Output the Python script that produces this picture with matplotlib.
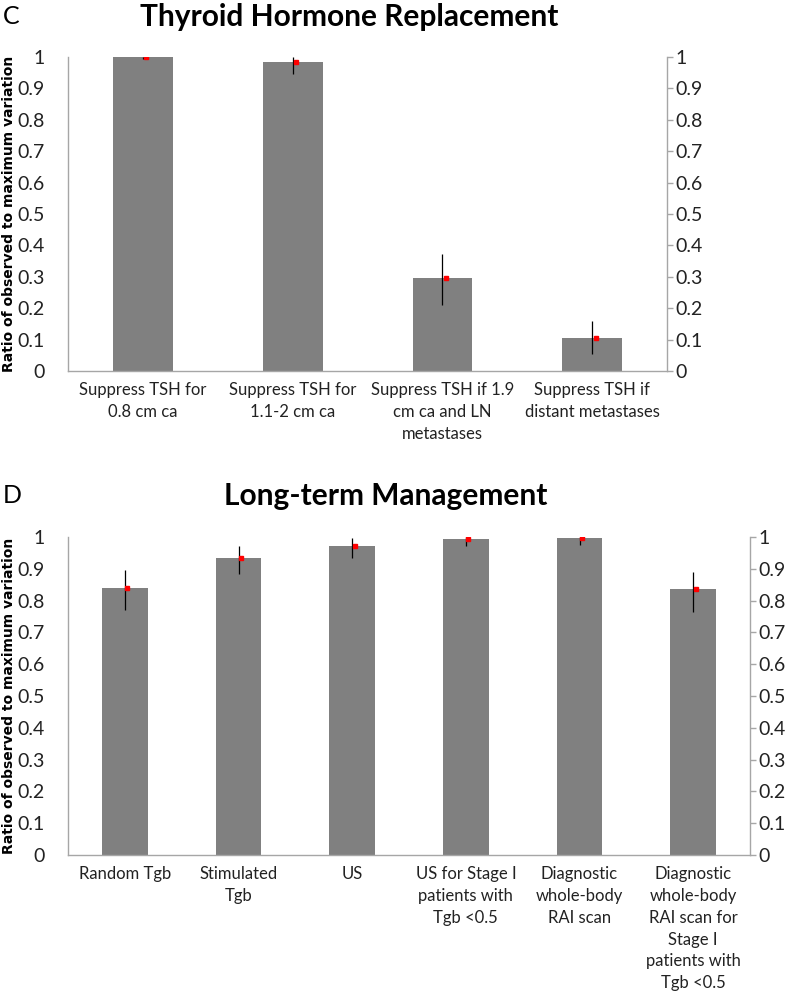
import numpy as np
import matplotlib
matplotlib.use("Agg")
import matplotlib.pyplot as plt

# panel C data
top_labels = ["Suppress TSH for\n0.8 cm ca", "Suppress TSH for\n1.1-2 cm ca",
              "Suppress TSH if 1.9\ncm ca and LN\nmetastases", "Suppress TSH if\ndistant metastases"]
top_means = [1.0, 0.983, 0.297, 0.106]
top_low = [0.995, 0.945, 0.21, 0.053]
top_high = [1.0, 1.0, 0.374, 0.159]

# panel D data
bot_labels = ["Random Tgb", "Stimulated\nTgb", "US", "US for Stage I\npatients with\nTgb <0.5",
              "Diagnostic\nwhole-body\nRAI scan",
              "Diagnostic\nwhole-body\nRAI scan for\nStage I\npatients with\nTgb <0.5"]
bot_means = [0.841, 0.933, 0.972, 0.994, 0.996, 0.835]
bot_low = [0.77, 0.883, 0.934, 0.972, 0.974, 0.763]
bot_high = [0.895, 0.971, 0.997, 1.0, 1.0, 0.891]

yticks = [0, 0.1, 0.2, 0.3, 0.4, 0.5, 0.6, 0.7, 0.8, 0.9, 1.0]
ytick_labels = ["0", "0.1", "0.2", "0.3", "0.4", "0.5", "0.6", "0.7", "0.8", "0.9", "1"]

BAR = "#808080"
SPINE = "#a6a6a6"
TXT = "#222222"
FONT = "Lato"


def draw_panel(ax, labels, means, low, high, width_px):
    x = np.arange(len(labels))
    means = np.array(means)
    yerr = [means - np.array(low), np.array(high) - means]
    ax.bar(x, means, width=0.4, color=BAR, zorder=2)
    ax.errorbar(x, means, yerr=yerr, fmt="none", ecolor="black", elinewidth=0.9,
                capsize=0, zorder=3)
    ax.plot(x + 0.022, means, "s", color="#ff0000", markersize=3.2, zorder=4)

    ax.set_xlim(-0.5, len(labels) - 0.5)
    ax.set_ylim(0, 1)
    ax.set_yticks(yticks)
    ax.set_yticklabels(ytick_labels, family=FONT, fontsize=14, color=TXT)
    ax.set_xticks(x)
    ax.set_xticklabels(labels, family=FONT, fontsize=12, color=TXT, linespacing=1.45,
                       va="top")
    ax.tick_params(axis="x", length=0, pad=8)
    ax.tick_params(axis="y", length=0, pad=17)
    for s in ["top", "right"]:
        ax.spines[s].set_visible(False)
    for s in ["left", "bottom"]:
        ax.spines[s].set_color(SPINE)
        ax.spines[s].set_linewidth(1.0)
    ax.set_ylabel("Ratio of observed to maximum variation", family="DejaVu Sans",
                  fontweight="bold", fontsize=10, color="black", va="center", ha="center")
    ax.yaxis.set_label_coords(-59 / width_px, 0.5)

    ax2 = ax.twinx()
    ax2.set_ylim(0, 1)
    ax2.set_yticks(yticks)
    ax2.set_yticklabels(ytick_labels, family=FONT, fontsize=14, color=TXT)
    ax2.tick_params(axis="y", length=4, width=1.0, color=SPINE, pad=2)
    for s in ["top", "left", "bottom"]:
        ax2.spines[s].set_visible(False)
    ax2.spines["right"].set_color(SPINE)
    ax2.spines["right"].set_linewidth(1.0)


fig = plt.figure(figsize=(8, 10.05), dpi=100)

ax_top = fig.add_axes([0.085, 0.6308, 0.749, 0.3124])
draw_panel(ax_top, top_labels, top_means, top_low, top_high, 599)

ax_bot = fig.add_axes([0.085, 0.1493, 0.8525, 0.3164])
draw_panel(ax_bot, bot_labels, bot_means, bot_low, bot_high, 682)

fig.text(0.003, 1 - 16 / 1005, "C", family=FONT, fontsize=18, va="center", ha="left")
fig.text(349 / 800, 1 - 17 / 1005, "Thyroid Hormone Replacement", family=FONT,
         fontweight="bold", fontsize=21.5, va="center", ha="center")
fig.text(0.003, 1 - 495 / 1005, "D", family=FONT, fontsize=18, va="center", ha="left")
fig.text(386 / 800, 1 - 496 / 1005, "Long-term Management", family=FONT,
         fontweight="bold", fontsize=21.5, va="center", ha="center")

fig.savefig("out.png", dpi=100)
